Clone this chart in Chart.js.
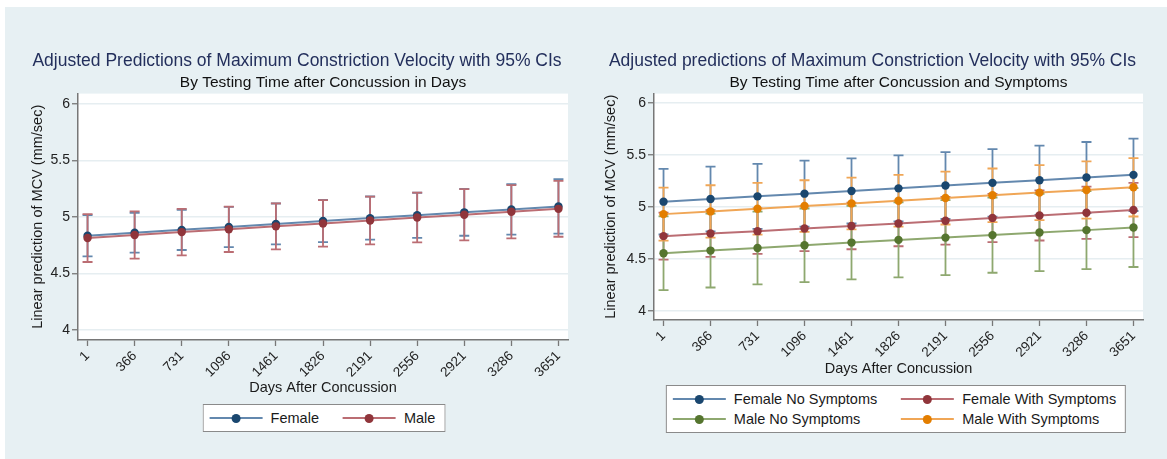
<!DOCTYPE html>
<html>
<head>
<meta charset="utf-8">
<script src="https://cdn.jsdelivr.net/npm/chart.js@4.4.0/dist/chart.umd.min.js"></script>
<style>
  html, body { margin: 0; padding: 0; background: #fff; }
  body { width: 1167px; height: 459px; position: relative; overflow: hidden; font-family: "Liberation Sans", Arial, sans-serif; }
  #fundo { position: absolute; left: 5px; top: 7px; width: 1162px; height: 452px; background: #e7f0f3; }
  .painel { position: absolute; top: 7px; }
  #p1 { left: 5px; }
  #p2 { left: 588px; }
  .legenda {
    position: absolute; transform: translateX(-50%); background: #fff;
    border: 1px solid #8a8a8a; box-sizing: border-box;
    display: grid; grid-template-columns: auto auto; column-gap: 24px;
    padding: 3px 9px 3px 6px; font-size: 14.5px; color: #1a1a1a;
  }
  .item { display: flex; align-items: center; height: 20px; white-space: nowrap; }
  .simbolo { position: relative; width: 53px; height: 2px; margin-right: 8px; }
  .simbolo i { position: absolute; left: 22px; top: -3.5px; width: 9px; height: 9px; border-radius: 50%; }
</style>
</head>
<body>
<div id="fundo"></div>
<canvas id="p1" class="painel" width="583" height="452"></canvas>
<canvas id="p2" class="painel" width="579" height="452"></canvas>
<div id="leg1" class="legenda" style="left:324px; top:404px;"></div>
<div id="leg2" class="legenda" style="left:896px; top:385px;"></div>

<script>
// Dados
const dias = [1, 366, 731, 1096, 1461, 1826, 2191, 2556, 2921, 3286, 3651];
const marcasY = [4, 4.5, 5, 5.5, 6];

// Painel 1: por sexo
const nomes1 = ["Female", "Male"];
const feminino    = [4.835, 4.861, 4.887, 4.913, 4.939, 4.965, 4.991, 5.016, 5.042, 5.068, 5.094];
const femininoInf = [4.653, 4.685, 4.709, 4.735, 4.758, 4.779, 4.800, 4.817, 4.835, 4.844, 4.853];
const femininoSup = [5.017, 5.037, 5.065, 5.091, 5.120, 5.151, 5.182, 5.215, 5.249, 5.292, 5.335];
const masculino    = [4.815, 4.841, 4.867, 4.892, 4.918, 4.944, 4.970, 4.996, 5.021, 5.047, 5.073];
const masculinoInf = [4.603, 4.632, 4.661, 4.691, 4.714, 4.738, 4.759, 4.776, 4.794, 4.812, 4.826];
const masculinoSup = [5.027, 5.050, 5.073, 5.093, 5.122, 5.150, 5.181, 5.216, 5.248, 5.282, 5.320];

// Painel 2: por sexo e sintomas
const nomes2 = ["Female No Symptoms", "Female With Symptoms", "Male No Symptoms", "Male With Symptoms"];
const femSem    = [5.052, 5.078, 5.103, 5.129, 5.155, 5.180, 5.207, 5.233, 5.258, 5.284, 5.310];
const femSemInf = [4.736, 4.766, 4.790, 4.812, 4.842, 4.863, 4.885, 4.908, 4.925, 4.942, 4.962];
const femSemSup = [5.368, 5.390, 5.416, 5.446, 5.468, 5.497, 5.529, 5.558, 5.591, 5.626, 5.658];
const femCom    = [4.720, 4.745, 4.768, 4.793, 4.818, 4.842, 4.868, 4.894, 4.919, 4.945, 4.971];
const femComInf = [4.494, 4.520, 4.549, 4.575, 4.594, 4.623, 4.639, 4.662, 4.678, 4.694, 4.710];
const femComSup = [4.946, 4.970, 4.987, 5.011, 5.042, 5.061, 5.097, 5.126, 5.160, 5.196, 5.232];
const mascSem    = [4.555, 4.581, 4.606, 4.632, 4.658, 4.684, 4.706, 4.730, 4.755, 4.778, 4.803];
const mascSemInf = [4.200, 4.226, 4.255, 4.278, 4.304, 4.323, 4.345, 4.368, 4.384, 4.403, 4.423];
const mascSemSup = [4.910, 4.936, 4.957, 4.986, 5.012, 5.045, 5.067, 5.092, 5.126, 5.153, 5.183];
const mascCom    = [4.932, 4.958, 4.984, 5.010, 5.035, 5.061, 5.087, 5.113, 5.139, 5.164, 5.190];
const mascComInf = [4.677, 4.706, 4.735, 4.762, 4.786, 4.812, 4.832, 4.855, 4.875, 4.889, 4.909];
const mascComSup = [5.187, 5.210, 5.233, 5.258, 5.284, 5.310, 5.342, 5.371, 5.403, 5.439, 5.471];

// Cores (marcador, linha/IC) no estilo s2color
const azul    = ["#1a476f", "#6388ae"];
const vinho   = ["#90353b", "#bb6d73"];
const verde   = ["#55752f", "#8ea86f"];
const laranja = ["#e37e00", "#f0a656"];

Chart.defaults.font.family = '"Liberation Sans", Arial, sans-serif';

// Fundo branco da área do gráfico
const areaBranca = {
  id: "areaBranca",
  beforeDraw(chart) {
    const { ctx, chartArea: a } = chart;
    ctx.save();
    ctx.fillStyle = "#fff";
    ctx.fillRect(a.left, a.top, a.right - a.left, a.bottom - a.top);
    ctx.restore();
  }
};

// Barras de erro (IC 95%)
const barrasErro = {
  id: "barrasErro",
  beforeDatasetsDraw(chart) {
    const { ctx, scales: { x, y } } = chart;
    ctx.save();
    ctx.lineWidth = 1.8;
    chart.data.datasets.forEach(ds => {
      ctx.strokeStyle = ds.corIC;
      ds.inferior.forEach((lo, i) => {
        const px = x.getPixelForValue(dias[i]);
        const y1 = y.getPixelForValue(lo);
        const y2 = y.getPixelForValue(ds.superior[i]);
        ctx.beginPath();
        ctx.moveTo(px, y1); ctx.lineTo(px, y2);
        ctx.moveTo(px - 5, y1); ctx.lineTo(px + 5, y1);
        ctx.moveTo(px - 5, y2); ctx.lineTo(px + 5, y2);
        ctx.stroke();
      });
    });
    ctx.restore();
  }
};

function serie(label, valores, inf, sup, cor, ordem) {
  return {
    label: label,
    data: dias.map((d, i) => ({ x: d, y: valores[i] })),
    inferior: inf, superior: sup, corIC: cor[1],
    borderColor: cor[1], borderWidth: 2,
    pointRadius: 4.2, pointBackgroundColor: cor[0], pointBorderColor: cor[0], pointBorderWidth: 0,
    tension: 0, order: ordem
  };
}

function criarGrafico(id, titulo, subtitulo, datasets, cfg) {
  new Chart(document.getElementById(id), {
    type: "line",
    data: { datasets: datasets },
    options: {
      responsive: false,
      animation: false,
      layout: { padding: { left: cfg.padEsq, right: cfg.padDir, top: 0, bottom: cfg.padBaixo } },
      plugins: {
        legend: { display: false },
        tooltip: { enabled: false },
        title: { display: true, text: titulo, color: "#232f5c", font: { size: 17.5, weight: "normal" }, padding: { top: 44, bottom: 0 }, fullSize: true },
        subtitle: { display: true, text: subtitulo, color: "#111", font: { size: 15.5 }, padding: { top: 1, bottom: 2 }, fullSize: false }
      },
      scales: {
        x: {
          type: "linear", min: -73, max: 3725,
          afterBuildTicks: s => { s.ticks = dias.map(v => ({ value: v })); },
          afterFit: s => { s.height = 60; },
          ticks: { color: "#222", font: { size: 13.5 }, minRotation: 45, maxRotation: 45, padding: 2, autoSkip: false, callback: v => String(v) },
          grid: { drawOnChartArea: false, drawTicks: true, tickLength: 6, tickColor: "#777", tickWidth: 1.3 },
          border: { display: true, color: "#777", width: 1.5 },
          title: { display: true, text: "Days After Concussion", color: "#1a1a1a", font: { size: 14.5 }, padding: { top: 0, bottom: cfg.padTituloX } }
        },
        y: {
          type: "linear", min: 3.913, max: 6.092,
          afterBuildTicks: s => { s.ticks = marcasY.map(v => ({ value: v })); },
          afterFit: s => { s.width = cfg.largY; },
          ticks: { color: "#222", font: { size: 14 }, padding: 2, callback: v => String(v) },
          grid: { color: "#e6eef1", lineWidth: 1.5, drawTicks: true, tickLength: 6, tickColor: "#777", tickWidth: 1.3 },
          border: { display: true, color: "#777", width: 1.5 },
          title: { display: true, text: "Linear prediction of MCV (mm/sec)", color: "#1a1a1a", font: { size: 14.5 }, padding: { top: cfg.padTituloY, bottom: 0 } }
        }
      }
    },
    plugins: [areaBranca, barrasErro]
  });
}

criarGrafico("p1",
  "Adjusted Predictions of Maximum Constriction Velocity with 95% CIs",
  "By Testing Time after Concussion in Days",
  [
    serie(nomes1[0], feminino, femininoInf, femininoSup, azul, 2),
    serie(nomes1[1], masculino, masculinoInf, masculinoSup, vinho, 1)
  ],
  { padEsq: 21, padDir: 20, padBaixo: 59, largY: 52, padTituloX: 3.3, padTituloY: 3.3 });

criarGrafico("p2",
  "Adjusted predictions of Maximum Constriction Velocity with 95% CIs",
  "By Testing Time after Concussion and Symptoms",
  [
    serie(nomes2[0], femSem, femSemInf, femSemSup, azul, 4),
    serie(nomes2[1], femCom, femComInf, femComSup, vinho, 3),
    serie(nomes2[2], mascSem, mascSemInf, mascSemSup, verde, 2),
    serie(nomes2[3], mascCom, mascComInf, mascComSup, laranja, 1)
  ],
  { padEsq: 14, padDir: 24, padBaixo: 79, largY: 52, padTituloX: 2.3, padTituloY: 0.3 });

// Legendas em HTML (caixa com borda, duas colunas)
function legenda(id, nomes, cores) {
  const caixa = document.getElementById(id);
  nomes.forEach((n, i) => {
    const item = document.createElement("div");
    item.className = "item";
    item.innerHTML = `<span class="simbolo" style="background:${cores[i][1]}"><i style="background:${cores[i][0]}"></i></span>${n}`;
    caixa.appendChild(item);
  });
}
legenda("leg1", nomes1, [azul, vinho]);
legenda("leg2", nomes2, [azul, vinho, verde, laranja]);
</script>
</body>
</html>
